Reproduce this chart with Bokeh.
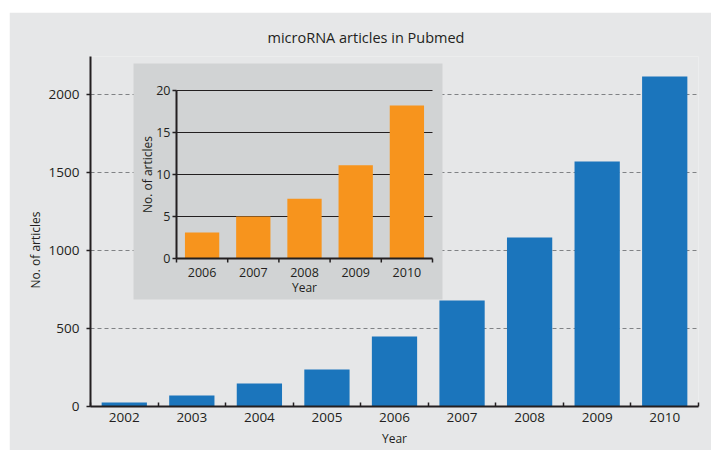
import numpy as np
from bokeh.plotting import figure
from bokeh.models import Range1d, FixedTicker, Title
from bokeh.core.properties import value
from bokeh.embed import file_html
from bokeh.resources import INLINE

# ---------------- data ----------------
years = ["2002", "2003", "2004", "2005", "2006", "2007", "2008", "2009", "2010"]
articles = [26, 70, 147, 237, 448, 678, 1082, 1568, 2112]
y_ticks = [0, 500, 1000, 1500, 2000]

inset_years = ["2006", "2007", "2008", "2009", "2010"]
inset_articles = [3.1, 5.0, 7.1, 11.1, 18.2]
inset_ticks = [0, 5, 10, 15, 20]

# ---------------- style ----------------
FONT = "Open Sans"
TXT = "#231f20"
BG = "#e6e7e8"
INSET_BG = "#d1d3d4"
BLUE = "#1b75bc"
ORANGE = "#f7941d"

# layout in page pixels (reference coordinates)
FIG_X, FIG_Y, W, H = 10, 12, 702, 438
L, R, T, B = 91, 699, 56, 406          # main frame
iL, iR, iT, iB = 177, 433, 90, 258     # inset frame
bxL, bxR, byT, byB = 134, 443, 63, 299  # inset box

n = len(years)
xs = list(range(1, n + 1))
ymax = 2000 * (B - T) / (B - 93.5)

p = figure(width=W, height=H, x_range=Range1d(0.5, n + 0.5), y_range=Range1d(0, ymax),
           output_backend="svg", toolbar_location=None,
           min_border_left=L - FIG_X, min_border_right=FIG_X + W - R,
           min_border_top=T - FIG_Y, min_border_bottom=FIG_Y + H - B)
p.margin = (12, 0, 0, 9)
p.background_fill_color = BG
p.border_fill_color = BG
p.outline_line_color = None

p.title.text = "microRNA articles in Pubmed"
p.title.align = "left"
p.title.offset = 177
p.title.text_font = FONT
p.title.text_font_size = "14.5px"
p.title.text_font_style = "normal"
p.title.text_color = TXT
p.title.standoff = 19

# x axis
xa = p.xaxis[0]
xa.ticker = FixedTicker(ticks=xs, minor_ticks=[x - 0.5 for x in xs] + [n + 0.5])
xa.major_label_overrides = {x: yr for x, yr in zip(xs, years)}
xa.major_tick_in = 0
xa.major_tick_out = 0
xa.minor_tick_in = 4
xa.minor_tick_out = 0
xa.minor_tick_line_color = TXT
xa.minor_tick_line_width = 1.5
xa.axis_line_color = TXT
xa.axis_line_width = 2
xa.major_label_standoff = 6
xa.major_label_text_font = FONT
xa.major_label_text_font_size = "13.5px"
xa.major_label_text_color = TXT
xa.axis_label = "Year"
xa.axis_label_text_font = FONT
xa.axis_label_text_font_size = "12px"
xa.axis_label_text_font_style = "normal"
xa.axis_label_text_color = TXT
xa.axis_label_standoff = 5

# y axis
ya = p.yaxis[0]
ya.ticker = FixedTicker(ticks=y_ticks)
ya.major_tick_in = 0
ya.major_tick_out = 4
ya.major_tick_line_color = TXT
ya.major_tick_line_width = 1.5
ya.minor_tick_line_color = None
ya.axis_line_color = TXT
ya.axis_line_width = 2
ya.major_label_standoff = 7
ya.major_label_text_font = FONT
ya.major_label_text_font_size = "13.5px"
ya.major_label_text_color = TXT

ytitle = Title(text="No. of articles", align="left", offset=B - 288,
               text_font=FONT, text_font_size="12px", text_font_style="normal",
               text_color=TXT, standoff=4)
p.add_layout(ytitle, "left")

p.xgrid.visible = False
p.ygrid.ticker = FixedTicker(ticks=[t for t in y_ticks if t > 0])
p.ygrid.grid_line_color = "#808285"
p.ygrid.grid_line_dash = "4 3"
p.ygrid.grid_line_width = 1

p.vbar(x=xs, top=articles, width=0.67, bottom=0, fill_color=BLUE, line_color=None)

# ---------------- inset (drawn with its own ranges) ----------------
m = len(inset_years)
kx = m / (iR - iL)
ky = 20 / (iB - iT)
p.extra_x_ranges = {"ix": Range1d(0.5 - (iL - L) * kx, m + 0.5 + (R - iR) * kx)}
p.extra_y_ranges = {"iy": Range1d(-(B - iB) * ky, 20 + (iT - T) * ky)}
ir = dict(x_range_name="ix", y_range_name="iy")

def px2x(px):
    return 0.5 + (px - iL) * kx

def py2y(py):
    return (iB - py) * ky

p.quad(left=px2x(bxL), right=px2x(bxR), bottom=py2y(byB), top=py2y(byT),
       fill_color=INSET_BG, line_color=None, **ir)

gl = [t for t in inset_ticks if t > 0]
p.segment(x0=[0.5] * len(gl), x1=[m + 0.5] * len(gl), y0=gl, y1=gl,
          line_color=TXT, line_width=1, **ir)

ixs = list(range(1, m + 1))
p.vbar(x=ixs, top=inset_articles, width=0.67, bottom=0, fill_color=ORANGE, line_color=None, **ir)

# inset axes
p.segment(x0=[0.5, 0.5], x1=[0.5, m + 0.5], y0=[0, 0], y1=[20, 0],
          line_color=TXT, line_width=2, **ir)
p.segment(x0=[0.5] * m, x1=[0.5 - 4 * kx] * m, y0=inset_ticks, y1=inset_ticks,
          line_color=TXT, line_width=1.5, **ir)
bnd = [x - 0.5 for x in ixs] + [m + 0.5]
p.segment(x0=bnd, x1=bnd, y0=[0] * len(bnd), y1=[-4 * ky] * len(bnd),
          line_color=TXT, line_width=1.5, **ir)

tk = dict(text_font=value(FONT), text_color=TXT)
p.text(x=[0.5] * m, y=inset_ticks, text=[str(t) for t in inset_ticks],
       x_offset=-6, text_align="right", text_baseline="middle",
       text_font_size="12.5px", **tk, **ir)
p.text(x=ixs, y=[0] * m, text=inset_years, y_offset=14, text_align="center",
       text_baseline="middle", text_font_size="12.5px", **tk, **ir)
p.text(x=[(m + 1) / 2], y=[0], text=["Year"], y_offset=29, text_align="center",
       text_baseline="middle", text_font_size="12px", **tk, **ir)
p.text(x=[0.5], y=[10], text=["No. of articles"], x_offset=-29, angle=np.pi / 2,
       text_align="center", text_baseline="middle", text_font_size="12px", **tk, **ir)

open("out.html", "w").write(file_html(p, INLINE))
